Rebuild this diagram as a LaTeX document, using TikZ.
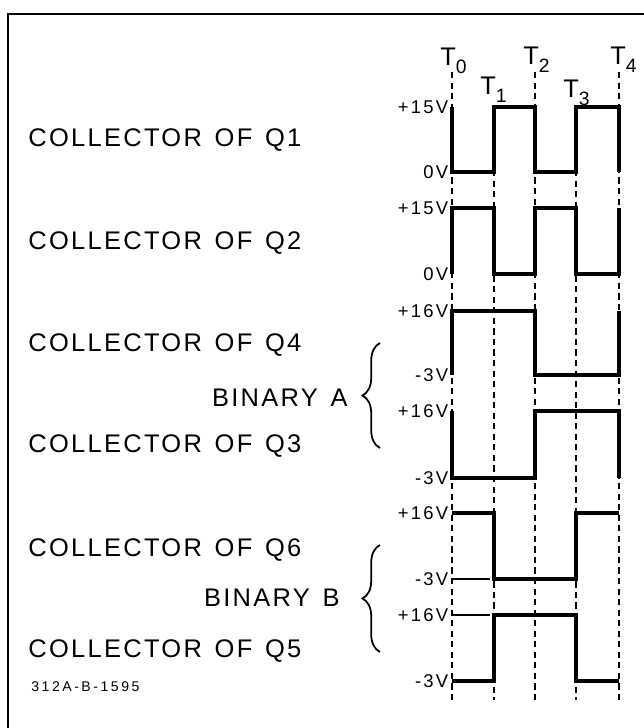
\documentclass[tikz,border=0pt]{standalone}
\usepackage{fontspec}
\setmainfont{Liberation Sans}
\newfontfamily\signalfont[LetterSpace=9]{Liberation Sans}
\newfontfamily\voltfont[LetterSpace=12]{Liberation Sans}
\newfontfamily\codefont[LetterSpace=18]{Liberation Sans}
\usetikzlibrary{positioning,decorations.pathreplacing}
\newcommand{\tmark}[1]{T\raisebox{-0.6ex}{\fontsize{11}{11}\selectfont #1}}
\begin{document}
\begin{tikzpicture}[
            x=0.02cm, y=-0.02cm,
            wave/.style={line width=1.8pt, line join=miter},
            timeline/.style={line width=0.7pt, dash pattern=on 3.5pt off 2.5pt},
            reflevel/.style={line width=0.7pt},
            signame/.style={anchor=west, inner sep=0pt, font=\fontsize{14.5}{17}\signalfont},
            volt/.style={inner sep=0pt, font=\fontsize{10.5}{12}\voltfont},
            tlabel/.style={anchor=base west, inner sep=0pt, font=\fontsize{14.5}{17}\selectfont},
            curly/.style={decorate, decoration={brace, amplitude=10pt}, line width=1pt}
        ]
            \useasboundingbox (0,0) rectangle (644,728);
            % Frame
            \draw[line width=1.4pt] (8,728) -- (8,14) -- (644,14);

            % Time instants and levels
            \foreach \name/\x in {t0/452, t1/494, t2/535, t3/576, t4/619}
                \coordinate (\name) at (\x,0);
            \foreach \name/\y in {q1h/107, q1l/172, q2h/208, q2l/274, q4h/311, q4l/375,
                                  q3h/411, q3l/478, q6h/513, q6l/579, q5h/615, q5l/681}
                \coordinate (\name) at (0,\y);

            % Dashed time lines
            \foreach \t in {t0, t2, t4}
                \draw[timeline] ([yshift=-72*0.02cm]\t) -- ([yshift=-700*0.02cm]\t);
            \foreach \t in {t1, t3}
                \draw[timeline] ([yshift=-107*0.02cm]\t) -- ([yshift=-700*0.02cm]\t);

            % Time labels
            \node[tlabel] (lt0) at (440,65) {\tmark{0}};
            \node[tlabel] (lt1) at (480,94) {\tmark{1}};
            \node[tlabel] (lt2) at (523,64) {\tmark{2}};
            \node[tlabel] (lt3) at (563,97) {\tmark{3}};
            \node[tlabel] (lt4) at (610,64) {\tmark{4}};

            % Waveforms
            \draw[wave] (t0|-q1h) |- (t1|-q1l) |- (t2|-q1h) |- (t3|-q1l) |- (t4|-q1h) -- (t4|-q1l);
            \draw[wave] (t0|-q2l) |- (t1|-q2h) |- (t2|-q2l) |- (t3|-q2h) |- (t4|-q2l) -- (t4|-q2h);
            \draw[wave] (t0|-q4l) |- (t2|-q4h) |- (t4|-q4l) -- (t4|-q4h);
            \draw[wave] (t0|-q3h) |- (t2|-q3l) |- (t4|-q3h) -- (t4|-q3l);
            \draw[wave] (t0|-q6h) -- (t1|-q6h) |- (t3|-q6l) |- (t4|-q6h);
            \draw[wave] (t0|-q5l) -- (t1|-q5l) |- (t3|-q5h) |- (t4|-q5l);
            \draw[reflevel] (t0|-q6l) -- +(38,0);
            \draw[reflevel] (t0|-q5h) -- +(38,0);

            % Voltage levels
            \node[volt, left=2pt] (v1h) at (t0|-q1h) {+15V};
            \node[volt, left=2pt] (v1l) at (t0|-q1l) {0V};
            \node[volt, left=2pt] (v2h) at (t0|-q2h) {+15V};
            \node[volt, left=2pt] (v2l) at (t0|-q2l) {0V};
            \node[volt, left=2pt] (v4h) at (t0|-q4h) {+16V};
            \node[volt, left=2pt] (v4l) at (t0|-q4l) {-3V};
            \node[volt, left=2pt] (v3h) at (t0|-q3h) {+16V};
            \node[volt, left=2pt] (v3l) at (t0|-q3l) {-3V};
            \node[volt, left=2pt] (v6h) at (t0|-q6h) {+16V};
            \node[volt, left=2pt] (v6l) at (t0|-q6l) {-3V};
            \node[volt, left=2pt] (v5h) at (t0|-q5h) {+16V};
            \node[volt, left=2pt] (v5l) at (t0|-q5l) {-3V};

            % Signal names
            \node[signame] (cq1) at (28,140) {COLLECTOR\enspace OF\enspace Q1};
            \node[signame] (cq2) at (28,243) {COLLECTOR\enspace OF\enspace Q2};
            \node[signame] (cq4) at (28,345) {COLLECTOR\enspace OF\enspace Q4};
            \node[signame] (cq3) at (28,446) {COLLECTOR\enspace OF\enspace Q3};
            \node[signame] (cq6) at (28,550) {COLLECTOR\enspace OF\enspace Q6};
            \node[signame] (cq5) at (28,651) {COLLECTOR\enspace OF\enspace Q5};

            % Binaries
            \node[signame, anchor=east] (bina) at (348,398) {BINARY\enspace A};
            \node[signame, anchor=east] (binb) at (340,598) {BINARY\enspace B};
            \draw[curly] (380,448) -- (380,343);
            \draw[curly] (380,652) -- (380,545);

            \node[anchor=west, inner sep=0pt, font=\fontsize{8}{10}\codefont] (code) at (31,687) {312A-B-1595};
        \end{tikzpicture}
\end{document}
